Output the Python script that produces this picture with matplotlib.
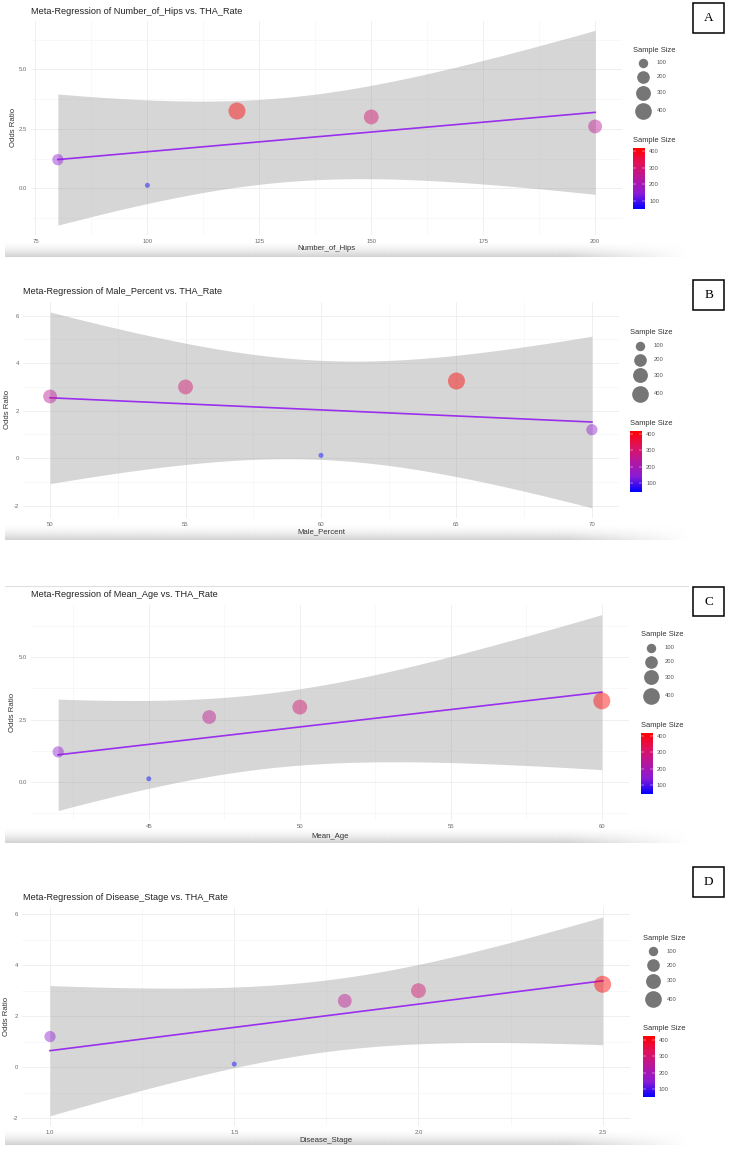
import numpy as np
import matplotlib
matplotlib.use("Agg")
import matplotlib.pyplot as plt
from matplotlib.colors import LinearSegmentedColormap, Normalize
from matplotlib.cm import ScalarMappable
from matplotlib.patches import Rectangle
from matplotlib.ticker import MultipleLocator, FormatStrFormatter

plt.rcParams['font.family'] = ['Liberation Sans', 'DejaVu Sans']

W, H = 737, 1159

# study level data
odds_ratio = [1.2, 0.12, 3.25, 3.0, 2.6]
sample_size = [150, 50, 420, 300, 250]
number_of_hips = [80, 100, 120, 150, 200]
male_percent = [70, 60, 65, 55, 50]
mean_age = [42, 45, 60, 50, 47]
disease_stage = [1.0, 1.5, 2.5, 2.0, 1.8]

size_breaks = [100, 200, 300, 400]

xticks_hips = [75, 100, 125, 150, 175, 200]
xticks_male = [50, 55, 60, 65, 70]
xticks_age = [45, 50, 55, 60]
xticks_stage = [1.0, 1.5, 2.0, 2.5]
yticks_a = [0.0, 2.5, 5.0]
yticks_b = [-2, 0, 2, 4, 6]

smin, smax = min(sample_size), max(sample_size)
cmap = LinearSegmentedColormap.from_list(
    "bluered", ['#0000FF', '#8A1BD6', '#B5179E', '#E0125B', '#FF0000'])
norm = Normalize(smin, smax)


def diam_px(v):
    frac = (np.asarray(v, float) - smin) / (smax - smin)
    return 5 + 12 * np.sqrt(frac)


def pts2(d):
    return (d * 72 / 100.0) ** 2


def rect(x0, y0, x1, y1):
    return [x0 / W, 1 - y1 / H, (x1 - x0) / W, (y1 - y0) / H]


def lm_band(x, y, n=80):
    # same as geom_smooth(method="lm"), 95% band
    x = np.asarray(x, float)
    y = np.asarray(y, float)
    b1, b0 = np.polyfit(x, y, 1)
    xs = np.linspace(x.min(), x.max(), n)
    fit = b0 + b1 * xs
    resid = y - (b0 + b1 * x)
    s = np.sqrt(np.sum(resid ** 2) / (len(x) - 2))
    se = s * np.sqrt(1.0 / len(x) + (xs - x.mean()) ** 2 / np.sum((x - x.mean()) ** 2))
    t = 3.182446  # t(0.975, df=3)
    return xs, fit, fit - t * se, fit + t * se


fig = plt.figure(figsize=(W / 100, H / 100), dpi=100)
canvas = fig.add_axes([0, 0, 1, 1], zorder=0)
canvas.axis('off')

# letter, x data, x name, axes box px, xticks, yticks, x fmt, y fmt, x minor, y minor,
# title pos, ylabel x, xlabel y, legend anchor, letter box top, shadow y
panels = [
    ("A", number_of_hips, "Number_of_Hips", (31, 20.6, 622, 234.9), xticks_hips, yticks_a,
     '%d', '%.1f', 12.5, 1.25, (31, 11), 13, 249, (633, 50), 3.3, 257),
    ("B", male_percent, "Male_Percent", (23, 302.2, 619, 517.6), xticks_male, yticks_b,
     '%d', '%d', 2.5, 1.0, (23, 292), 7.3, 531.7, (630, 332.7), 280, 540),
    ("C", mean_age, "Mean_Age", (31, 604.8, 629, 820.3), xticks_age, yticks_a,
     '%d', '%.1f', 2.5, 1.25, (30.7, 594.3), 12.7, 836, (640.7, 634.7), 586.7, 843),
    ("D", disease_stage, "Disease_Stage", (22.4, 907, 630.3, 1125.7), xticks_stage, yticks_b,
     '%.1f', '%d', 0.25, 1.0, (22.7, 897.3), 6.7, 1141, (642.7, 938.3), 867.3, 1145),
]

for (letter, xdata, xname, box, xt, yt, xfmt, yfmt, xminor, yminor,
     tpos, ylab_x, xlab_y, (lx, ly), box_top, shadow_y) in panels:
    x0, y0, x1, y1 = box
    ax = fig.add_axes(rect(x0, y0, x1, y1), zorder=1)
    ax.set_facecolor('none')
    for sp in ax.spines.values():
        sp.set_visible(False)

    xs, fit, lo, hi = lm_band(xdata, odds_ratio)
    ax.fill_between(xs, lo, hi, color='#999999', alpha=0.4, lw=0, zorder=2)
    ax.plot(xs, fit, color='#9A2FEE', lw=1.2, zorder=3)
    ax.scatter(xdata, odds_ratio, s=pts2(diam_px(sample_size)),
               c=sample_size, cmap=cmap, norm=norm, alpha=0.45, lw=0, zorder=4)
    ax.margins(x=0.05, y=0.05)

    ax.set_xticks(xt)
    ax.set_yticks(yt)
    ax.xaxis.set_major_formatter(FormatStrFormatter(xfmt))
    ax.yaxis.set_major_formatter(FormatStrFormatter(yfmt))
    ax.xaxis.set_minor_locator(MultipleLocator(xminor))
    ax.yaxis.set_minor_locator(MultipleLocator(yminor))
    ax.grid(True, which='major', color='#ececec', lw=0.6, zorder=0)
    ax.grid(True, which='minor', color='#f4f4f4', lw=0.45, zorder=0)
    ax.set_axisbelow(True)
    ax.tick_params(which='both', length=0, labelsize=4.3, colors='#6a6a6a', pad=3)

    ax.set_xlabel(xname, fontsize=5.6, color='#333333')
    ax.set_ylabel("Odds Ratio", fontsize=5.6, color='#333333')
    ax.xaxis.set_label_coords(0.5, -(xlab_y - y1) / (y1 - y0))
    ax.yaxis.set_label_coords(-(x0 - ylab_x) / (x1 - x0), 0.5)
    ax.xaxis.label.set_va('center')
    ax.yaxis.label.set_va('center')

    canvas.text(tpos[0], tpos[1], "Meta-Regression of %s vs. THA_Rate" % xname,
                ha='left', va='center', fontsize=6.6, color='#222222')

    # size legend
    canvas.text(lx, ly, "Sample Size", ha='left', va='center', fontsize=5.4, color='#333333')
    for v, dy in zip(size_breaks, [13, 27, 42.6, 61]):
        canvas.scatter([lx + 10], [ly + dy], s=pts2(diam_px(v)), color='#767676', lw=0)
        canvas.text(lx + 24, ly + dy, str(v), ha='left', va='center', fontsize=4.2, color='#555555')

    # colour legend
    canvas.text(lx, ly + 90.5, "Sample Size", ha='left', va='center', fontsize=5.4, color='#333333')
    cax = fig.add_axes(rect(lx, ly + 98, lx + 12, ly + 159), zorder=2)
    cb = fig.colorbar(ScalarMappable(norm=norm, cmap=cmap), cax=cax, ticks=size_breaks)
    cb.outline.set_visible(False)
    cax.tick_params(which='both', direction='in', length=2.0, width=0.3, color='white',
                    left=True, right=True, labelleft=False, labelright=True,
                    labelsize=4.2, labelcolor='#555555', pad=3)
    cax.minorticks_off()

    # letter box
    canvas.add_patch(Rectangle((693.3, box_top), 30.7, 29.7, fill=False,
                               edgecolor='black', lw=1.1))
    canvas.text(708.6, box_top + 15, letter, ha='center', va='center',
                fontsize=9.5, family='Liberation Serif', color='black')

    # screenshot shadow under each panel
    n_r, n_c = 16, 200
    grad = np.zeros((n_r, n_c, 4))
    grad[..., :3] = 0.80
    vert = (np.arange(n_r) / (n_r - 1.0)) ** 1.6
    horiz = np.clip((1.0 - np.arange(n_c) / (n_c - 1.0)) / 0.18, 0, 1)
    grad[..., 3] = vert[:, None] * horiz[None, :] * 0.85
    canvas.imshow(grad, extent=(5, 690, shadow_y, shadow_y - 16), aspect='auto',
                  interpolation='bilinear', zorder=0)

# thin top rule on panel C
canvas.plot([5, 688], [586, 586], color='#e0e0e0', lw=0.8)

canvas.set_xlim(0, W)
canvas.set_ylim(H, 0)

fig.savefig("out.png", dpi=100)
